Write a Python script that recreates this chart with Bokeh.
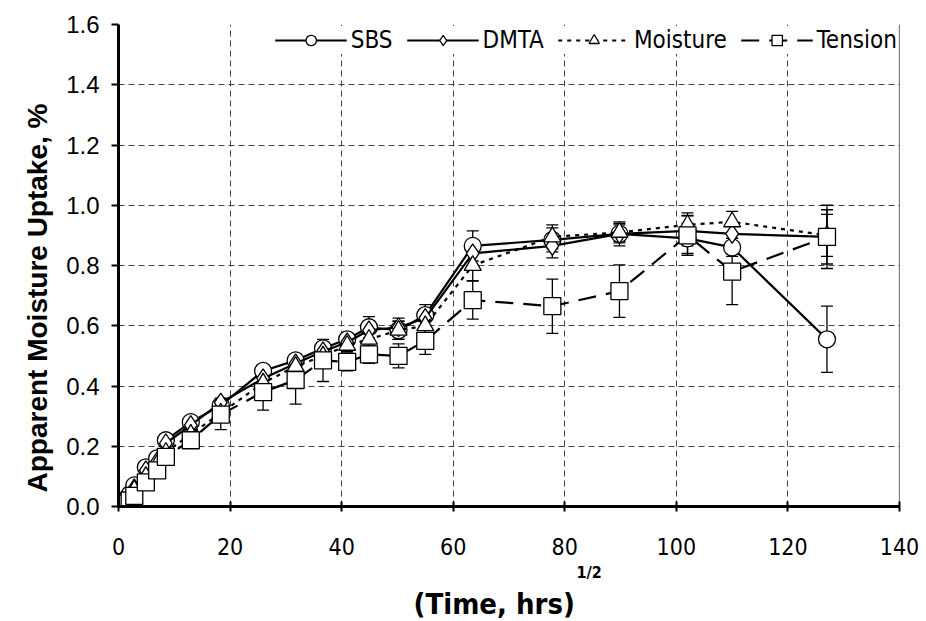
from bokeh.plotting import figure
from bokeh.models import (ColumnDataSource, Whisker, TeeHead, Span, Title,
                          FixedTicker, PrintfTickFormatter, Range1d)
from bokeh.embed import file_html
from bokeh.resources import INLINE

# ---- data ----
time_sqrt = [0, 1, 2, 2.83, 4.9, 6.93, 8.49, 12.96, 18.33, 25.92, 31.75, 36.66,
             40.99, 44.9, 50.2, 54.99, 63.5, 77.77, 89.8, 102.0, 110.0, 127.0]

sbs = [0, 0.02, 0.04, 0.07, 0.13, 0.16, 0.22, 0.28, 0.335, 0.45, 0.485, 0.525,
       0.555, 0.595, 0.585, 0.635, 0.865, 0.885, 0.905, 0.89, 0.86, 0.555]
sbs_err = [0, 0.005, 0.005, 0.01, 0.01, 0.01, 0.01, 0.01, 0.015, 0.015, 0.02, 0.02,
           0.02, 0.035, 0.03, 0.035, 0.05, 0.04, 0.04, 0.05, 0.03, 0.11]

dmta = [0, 0.015, 0.035, 0.06, 0.12, 0.15, 0.21, 0.27, 0.345, 0.425, 0.475, 0.515,
        0.545, 0.585, 0.595, 0.625, 0.84, 0.865, 0.905, 0.915, 0.905, 0.895]
dmta_err = [0, 0, 0, 0.005, 0.01, 0.01, 0.01, 0.01, 0.015, 0.015, 0.02, 0.02,
            0.02, 0.03, 0.03, 0.03, 0.04, 0.04, 0.03, 0.05, 0.03, 0.09]

moisture = [0, 0.01, 0.03, 0.055, 0.10, 0.14, 0.18, 0.24, 0.31, 0.41, 0.465, 0.50,
            0.535, 0.555, 0.585, 0.60, 0.80, 0.895, 0.91, 0.935, 0.945, 0.90]
moisture_err = [0, 0, 0, 0.005, 0.01, 0.01, 0.01, 0.01, 0.015, 0.02, 0.02, 0.02,
                0.02, 0.03, 0.03, 0.03, 0.05, 0.04, 0.03, 0.04, 0.035, 0.07]

tension = [0, 0.01, 0.02, 0.035, 0.08, 0.12, 0.165, 0.22, 0.305, 0.38, 0.42, 0.485,
           0.48, 0.505, 0.50, 0.55, 0.685, 0.665, 0.715, 0.90, 0.78, 0.895]
tension_err = [0, 0, 0.005, 0.005, 0.01, 0.01, 0.01, 0.01, 0.05, 0.06, 0.08, 0.07,
               0.03, 0.03, 0.04, 0.045, 0.063, 0.09, 0.087, 0.066, 0.11, 0.105]

x_ticks = [0, 20, 40, 60, 80, 100, 120, 140]
y_ticks = [0.0, 0.2, 0.4, 0.6, 0.8, 1.0, 1.2, 1.4, 1.6]

FONT = "Liberation Sans"
NARROW = "'DejaVu Sans Condensed', 'Liberation Sans'"

p = figure(width=926, height=621, output_backend="svg", toolbar_location=None,
           x_range=Range1d(0, 140), y_range=Range1d(0, 1.6))
p.min_border_left = 118
p.min_border_right = 27
p.min_border_top = 24
p.min_border_bottom = 115
p.outline_line_color = None
p.background_fill_color = "white"
p.border_fill_color = "white"

# grid
for g in (p.xgrid, p.ygrid):
    g.grid_line_color = "#444444"
    g.grid_line_dash = "6 4"
    g.grid_line_width = 1
p.xgrid.ticker = FixedTicker(ticks=x_ticks)
p.ygrid.ticker = FixedTicker(ticks=y_ticks)

# axes
p.xaxis.ticker = FixedTicker(ticks=x_ticks)
p.yaxis.ticker = FixedTicker(ticks=y_ticks)
p.yaxis.formatter = PrintfTickFormatter(format="%.1f")
for ax in (p.xaxis, p.yaxis):
    ax.axis_line_width = 3
    ax.axis_line_color = "black"
    ax.major_tick_line_width = 2
    ax.major_tick_line_color = "black"
    ax.minor_tick_line_color = None
    ax.major_label_text_color = "black"
p.xaxis.major_label_text_font_size = "23px"
p.yaxis.major_label_text_font_size = "24px"
p.xaxis.major_tick_in = 5
p.xaxis.major_tick_out = 5
p.yaxis.major_tick_in = 0
p.yaxis.major_tick_out = 7
p.xaxis.major_label_text_font = NARROW
p.yaxis.major_label_text_font = FONT
p.xaxis.major_label_standoff = 26
p.yaxis.major_label_standoff = 12

# y-axis title (as a side title so it can sit slightly below centre)
p.add_layout(Title(text="Apparent Moisture Uptake, %", text_font=FONT,
                   text_font_style="bold", text_font_size="28px", text_color="black",
                   align="left", offset=14, standoff=22), "left")

# x-axis title with superscript (stacked titles)
p.add_layout(Title(text="1/2", text_font=NARROW, text_font_style="bold",
                   text_font_size="16px", text_color="black",
                   align="left", offset=458, standoff=6), "below")
p.add_layout(Title(text="(Time, hrs)", text_font=NARROW, text_font_style="bold",
                   text_font_size="29px", text_color="black",
                   align="left", offset=295, standoff=0), "below")

# right border
p.add_layout(Span(location=140, dimension="height", line_color="black", line_width=1.2))

series = [
    ("SBS", sbs, sbs_err, "circle", None, 17),
    ("DMTA", dmta, dmta_err, "diamond", None, 19),
    ("Moisture", moisture, moisture_err, "triangle", "4 5", 17),
    ("Tension", tension, tension_err, "square", "18 10", 17),
]

for name, ys, errs, marker, dash, size in series:
    src = ColumnDataSource(dict(
        x=time_sqrt, y=ys,
        upper=[a + b for a, b in zip(ys, errs)],
        lower=[a - b for a, b in zip(ys, errs)],
    ))
    w = Whisker(source=src, base="x", upper="upper", lower="lower",
                dimension="height", line_color="black", line_width=1.3,
                upper_head=TeeHead(size=12, line_width=1.3, line_color="black"),
                lower_head=TeeHead(size=12, line_width=1.3, line_color="black"),
                level="underlay")
    p.add_layout(w)
    kw = dict(line_color="black", line_width=2.2, legend_label=name)
    if dash:
        kw["line_dash"] = dash
    p.line("x", "y", source=src, **kw)
    p.scatter("x", "y", source=src, marker=marker, size=size,
              fill_color="white", line_color="black", line_width=1.3,
              legend_label=name)

lg = p.legend[0]
lg.orientation = "horizontal"
lg.location = "top_right"
lg.background_fill_color = "white"
lg.background_fill_alpha = 1
lg.border_line_color = None
lg.label_text_font = NARROW
lg.label_text_font_size = "24px"
lg.label_text_color = "black"
lg.glyph_width = 72
lg.glyph_height = 26
lg.spacing = 14
lg.label_standoff = 4
lg.padding = 2
lg.margin = 2

open("out.html", "w").write(file_html(p, INLINE))
